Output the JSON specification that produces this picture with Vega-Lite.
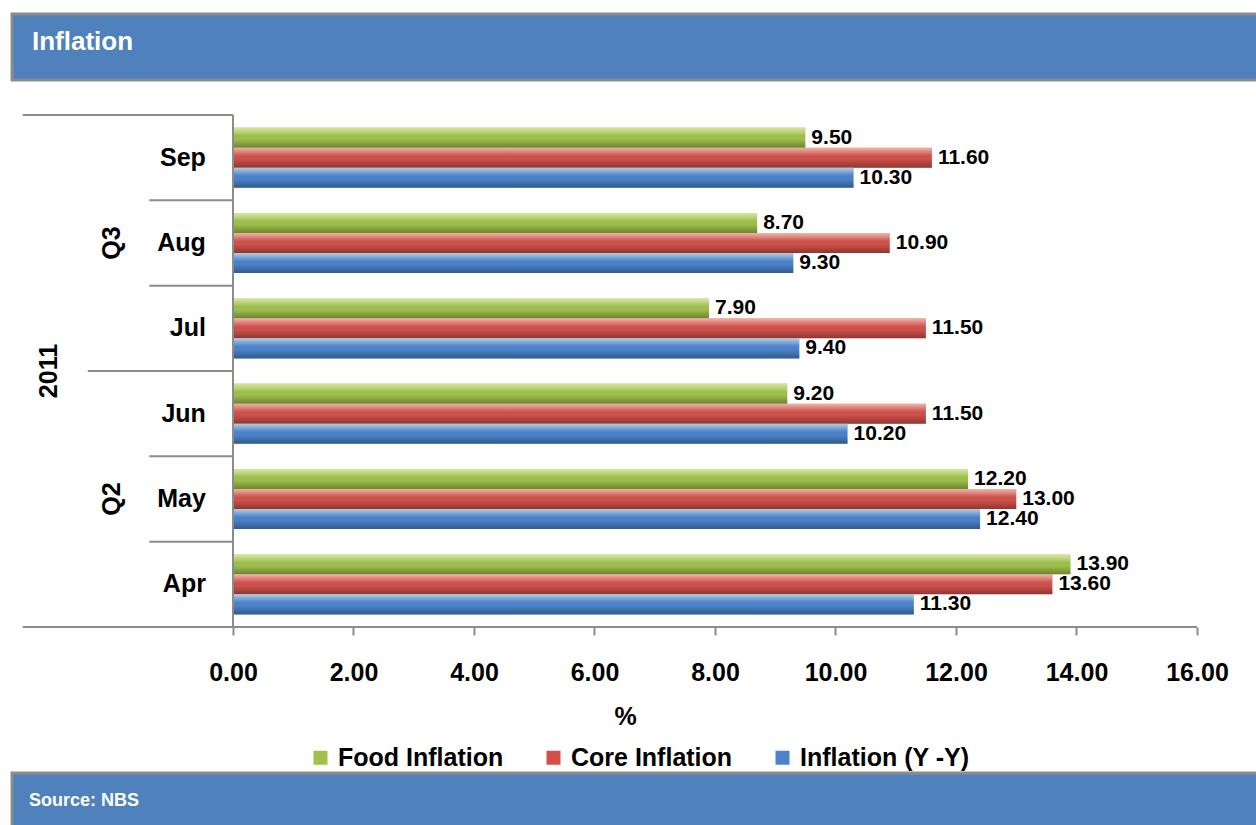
{
  "$schema": "https://vega.github.io/schema/vega-lite/v6.json",
  "description": "Inflation 2011 Q2-Q3: food, core and headline (Y-Y) inflation by month",
  "background": "white",
  "padding": {"left": 10, "top": 12, "right": 0, "bottom": 0},
  "datasets": {
    "inflation": [
      {"month": "Sep", "series": "Food Inflation", "value": 9.5},
      {"month": "Sep", "series": "Core Inflation", "value": 11.6},
      {"month": "Sep", "series": "Inflation (Y -Y)", "value": 10.3},
      {"month": "Aug", "series": "Food Inflation", "value": 8.7},
      {"month": "Aug", "series": "Core Inflation", "value": 10.9},
      {"month": "Aug", "series": "Inflation (Y -Y)", "value": 9.3},
      {"month": "Jul", "series": "Food Inflation", "value": 7.9},
      {"month": "Jul", "series": "Core Inflation", "value": 11.5},
      {"month": "Jul", "series": "Inflation (Y -Y)", "value": 9.4},
      {"month": "Jun", "series": "Food Inflation", "value": 9.2},
      {"month": "Jun", "series": "Core Inflation", "value": 11.5},
      {"month": "Jun", "series": "Inflation (Y -Y)", "value": 10.2},
      {"month": "May", "series": "Food Inflation", "value": 12.2},
      {"month": "May", "series": "Core Inflation", "value": 13.0},
      {"month": "May", "series": "Inflation (Y -Y)", "value": 12.4},
      {"month": "Apr", "series": "Food Inflation", "value": 13.9},
      {"month": "Apr", "series": "Core Inflation", "value": 13.6},
      {"month": "Apr", "series": "Inflation (Y -Y)", "value": 11.3}
    ],
    "months": [
      {"month": "Sep", "quarter": "Q3"},
      {"month": "Aug", "quarter": "Q3"},
      {"month": "Jul", "quarter": "Q3"},
      {"month": "Jun", "quarter": "Q2"},
      {"month": "May", "quarter": "Q2"},
      {"month": "Apr", "quarter": "Q2"}
    ],
    "quarters": [
      {"quarter": "Q3", "month": "Aug"},
      {"quarter": "Q2", "month": "May"}
    ],
    "years": [
      {"year": "2011", "month": "Jun"}
    ]
  },
  "spacing": 32,
  "resolve": {"legend": {"color": "independent"}},
  "vconcat": [
    {
      "width": 1246,
      "height": 66,
      "view": {"fill": "#4F81BD", "stroke": "#8C8C8C", "strokeWidth": 3},
      "data": {"values": [{"label": "Inflation"}]},
      "mark": {"type": "text", "align": "left", "baseline": "middle", "color": "white", "fontSize": 26, "fontWeight": "bold", "dx": 20, "dy": -5},
      "encoding": {
        "text": {"field": "label"},
        "x": {"datum": 0, "type": "quantitative", "scale": {"domain": [0, 1]}, "axis": null},
        "y": {"datum": 0.5, "type": "quantitative", "scale": {"domain": [0, 1]}, "axis": null}
      }
    },
    {
      "spacing": 0,
      "resolve": {"legend": {"color": "independent"}},
      "vconcat": [
        {
          "width": 1185,
          "height": 512,
          "view": {"stroke": null},
          "layer": [
            {
              "data": {"name": "inflation"},
              "mark": {"type": "bar"},
              "encoding": {
                "x": {
                  "field": "value", "type": "quantitative", "stack": null,
                  "scale": {"domain": [-3.668, 16], "nice": false, "zero": false},
                  "axis": {
                    "values": [0, 2, 4, 6, 8, 10, 12, 14, 16],
                    "format": ".2f",
                    "title": "%",
                    "titleX": 613,
                    "domain": false,
                    "grid": false,
                    "labelFlush": false,
                    "labelOverlap": false,
                    "tickColor": "#8C8C8C",
                    "tickWidth": 2,
                    "tickSize": 8,
                    "labelPadding": 25,
                    "titlePadding": 19,
                    "labelFontSize": 25,
                    "labelFontWeight": "bold",
                    "labelColor": "black",
                    "titleFontSize": 25,
                    "titleFontWeight": "bold",
                    "titleColor": "black"
                  }
                },
                "y": {
                  "field": "month", "type": "nominal",
                  "sort": ["Sep", "Aug", "Jul", "Jun", "May", "Apr"],
                  "scale": {"paddingInner": 0, "paddingOuter": 0},
                  "axis": null
                },
                "yOffset": {
                  "field": "series", "type": "nominal",
                  "sort": ["Food Inflation", "Core Inflation", "Inflation (Y -Y)"],
                  "scale": {"paddingInner": 0, "paddingOuter": 0.63}
                },
                "color": {
                  "field": "series", "type": "nominal",
                  "scale": {
                    "domain": ["Food Inflation", "Core Inflation", "Inflation (Y -Y)"],
                    "range": ["#A0C24A", "#D2504A", "#4A84CC"]
                  },
                  "legend": {
                    "title": null,
                    "orient": "none",
                    "direction": "horizontal",
                    "legendX": 296,
                    "legendY": 630,
                    "symbolType": "square",
                    "symbolSize": 196,
                    "symbolStrokeWidth": 0,
                    "symbolOpacity": 1,
                    "labelFontSize": 25,
                    "labelFontWeight": "bold",
                    "labelColor": "black",
                    "labelOffset": 5,
                    "columnPadding": 37,
                    "padding": 0,
                    "labelLimit": 400
                  }
                }
              }
            },
            {
              "data": {"name": "inflation"},
              "mark": {
                "type": "bar",
                "fill": {
                  "gradient": "linear", "x1": 0, "y1": 0, "x2": 0, "y2": 1,
                  "stops": [
                    {"offset": 0, "color": "rgba(255,255,220,0.6)"},
                    {"offset": 0.3, "color": "rgba(255,255,255,0.15)"},
                    {"offset": 0.55, "color": "rgba(0,0,0,0)"},
                    {"offset": 1, "color": "rgba(0,0,0,0.32)"}
                  ]
                }
              },
              "encoding": {
                "x": {"field": "value", "type": "quantitative", "stack": null},
                "y": {"field": "month", "type": "nominal", "sort": ["Sep", "Aug", "Jul", "Jun", "May", "Apr"]},
                "yOffset": {"field": "series", "type": "nominal", "sort": ["Food Inflation", "Core Inflation", "Inflation (Y -Y)"]}
              }
            },
            {
              "data": {"name": "inflation"},
              "mark": {"type": "text", "align": "left", "baseline": "middle", "dx": 6, "fontSize": 21, "fontWeight": "bold", "color": "black"},
              "encoding": {
                "x": {"field": "value", "type": "quantitative", "stack": null},
                "y": {"field": "month", "type": "nominal", "sort": ["Sep", "Aug", "Jul", "Jun", "May", "Apr"]},
                "yOffset": {"field": "series", "type": "nominal", "sort": ["Food Inflation", "Core Inflation", "Inflation (Y -Y)"]},
                "text": {"field": "value", "type": "quantitative", "format": ".2f"}
              }
            },
            {
              "data": {"name": "months"},
              "mark": {"type": "text", "align": "right", "baseline": "middle", "fontSize": 25, "fontWeight": "bold", "color": "black"},
              "encoding": {
                "x": {"datum": -0.45, "type": "quantitative"},
                "y": {"field": "month", "type": "nominal", "sort": ["Sep", "Aug", "Jul", "Jun", "May", "Apr"]},
                "text": {"field": "month"}
              }
            },
            {
              "data": {"name": "quarters"},
              "mark": {"type": "text", "align": "center", "baseline": "middle", "angle": 270, "fontSize": 25, "fontWeight": "bold", "color": "black"},
              "encoding": {
                "x": {"datum": -2.01, "type": "quantitative"},
                "y": {"field": "month", "type": "nominal", "sort": ["Sep", "Aug", "Jul", "Jun", "May", "Apr"]},
                "text": {"field": "quarter"}
              }
            },
            {
              "data": {"name": "years"},
              "mark": {"type": "text", "align": "center", "baseline": "middle", "angle": 270, "fontSize": 25, "fontWeight": "bold", "color": "black"},
              "encoding": {
                "x": {"datum": -3.05, "type": "quantitative"},
                "y": {"field": "month", "type": "nominal", "sort": ["Sep", "Aug", "Jul", "Jun", "May", "Apr"], "bandPosition": 0},
                "text": {"field": "year"}
              }
            },
            {
              "data": {"name": "months"},
              "transform": [{"filter": "datum.month != 'Sep' && datum.month != 'Jun'"}],
              "mark": {"type": "rule", "color": "#8C8C8C", "strokeWidth": 2},
              "encoding": {
                "x": {"datum": -1.39, "type": "quantitative"},
                "x2": {"datum": 0},
                "y": {"field": "month", "type": "nominal", "sort": ["Sep", "Aug", "Jul", "Jun", "May", "Apr"], "bandPosition": 0}
              }
            },
            {
              "data": {"name": "months"},
              "transform": [{"filter": "datum.month == 'Jun'"}],
              "mark": {"type": "rule", "color": "#8C8C8C", "strokeWidth": 2},
              "encoding": {
                "x": {"datum": -2.41, "type": "quantitative"},
                "x2": {"datum": 0},
                "y": {"field": "month", "type": "nominal", "sort": ["Sep", "Aug", "Jul", "Jun", "May", "Apr"], "bandPosition": 0}
              }
            },
            {
              "data": {"name": "months"},
              "transform": [{"filter": "datum.month == 'Sep'"}],
              "mark": {"type": "rule", "color": "#8C8C8C", "strokeWidth": 2},
              "encoding": {
                "x": {"datum": -3.49, "type": "quantitative"},
                "x2": {"datum": 0},
                "y": {"field": "month", "type": "nominal", "sort": ["Sep", "Aug", "Jul", "Jun", "May", "Apr"], "bandPosition": 0}
              }
            },
            {
              "data": {"name": "months"},
              "transform": [{"filter": "datum.month == 'Apr'"}],
              "mark": {"type": "rule", "color": "#8C8C8C", "strokeWidth": 2},
              "encoding": {
                "x": {"datum": -3.49, "type": "quantitative"},
                "x2": {"datum": 16},
                "y": {"field": "month", "type": "nominal", "sort": ["Sep", "Aug", "Jul", "Jun", "May", "Apr"], "bandPosition": 1}
              }
            },
            {
              "data": {"values": [{"axis": "y"}]},
              "mark": {"type": "rule", "color": "#8C8C8C", "strokeWidth": 2},
              "encoding": {
                "x": {"datum": 0, "type": "quantitative"}
              }
            }
          ]
        },
        {
          "width": 1246,
          "height": 56,
          "view": {"fill": "#4F81BD", "stroke": "#8C8C8C", "strokeWidth": 3},
          "data": {"values": [{"label": "Source: NBS"}]},
          "mark": {"type": "text", "align": "left", "baseline": "middle", "color": "white", "fontSize": 18, "fontWeight": "bold", "dx": 17},
          "encoding": {
            "text": {"field": "label"},
            "x": {"datum": 0, "type": "quantitative", "scale": {"domain": [0, 1]}, "axis": null},
            "y": {"datum": 0.5, "type": "quantitative", "scale": {"domain": [0, 1]}, "axis": null}
          }
        }
      ]
    }
  ],
  "config": {
    "font": "Liberation Sans",
    "view": {"stroke": null}
  }
}
